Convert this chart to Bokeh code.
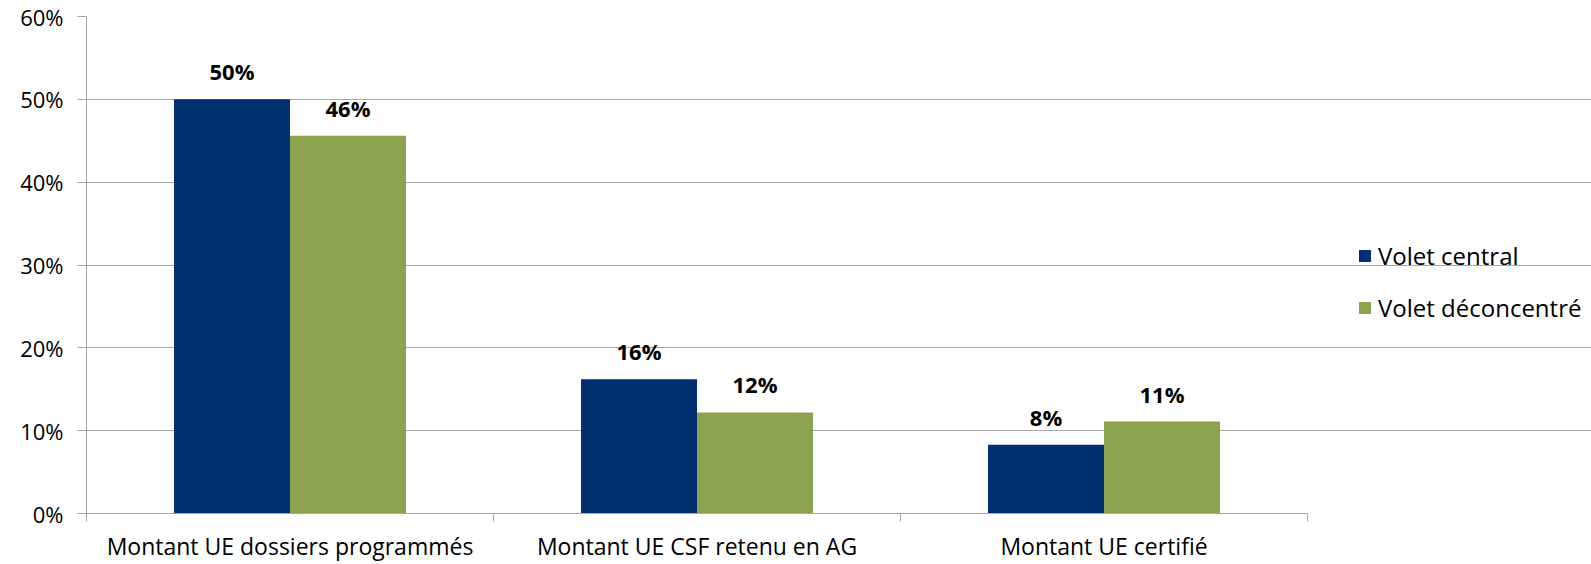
from bokeh.plotting import figure
from bokeh.models import Range1d, FixedTicker, Legend, LegendItem, ColumnDataSource, PrintfTickFormatter
from bokeh.embed import file_html
from bokeh.resources import INLINE
from bokeh.core.properties import value

categories = ["Montant UE dossiers programmés", "Montant UE CSF retenu en AG", "Montant UE certifié"]
series_names = ["Volet central", "Volet déconcentré"]
volet_central = [50.0, 16.2, 8.3]
volet_deconcentre = [45.6, 12.2, 11.1]
y_ticks = [0, 10, 20, 30, 40, 50, 60]
colors = ["#003070", "#8BA24E"]

FONT = "Open Sans"
GRID = "#A6A6A6"
BAR_W = 0.285

W, H = 1591, 564
LEFT, TOP, BOTTOM = 86, 16, 51
frame_w = W - LEFT
x_end = len(categories) * frame_w / 1221.0

p = figure(width=W, height=H, x_range=Range1d(0, x_end), y_range=Range1d(0, 60),
           output_backend="svg", toolbar_location=None,
           min_border_left=LEFT, min_border_right=0, min_border_top=TOP, min_border_bottom=BOTTOM)
p.outline_line_color = None
p.background_fill_color = "white"

# bars
renderers = []
for k, (vals, col) in enumerate([(volet_central, colors[0]), (volet_deconcentre, colors[1])]):
    xs = [i + 0.5 + (k - 0.5) * BAR_W for i in range(len(categories))]
    src = ColumnDataSource(dict(x=xs, top=vals, lab=["%d%%" % round(v) for v in vals]))
    r = p.vbar(x="x", top="top", bottom=0, width=BAR_W, source=src, fill_color=col, line_color=None)
    renderers.append(r)
    p.text(x="x", y="top", text="lab", source=src, y_offset=-28, text_align="center",
           text_baseline="alphabetic", text_font=value(FONT), text_font_style="bold",
           text_font_size="22px", text_color="black")

# y axis
yax = p.yaxis[0]
yax.ticker = FixedTicker(ticks=y_ticks, minor_ticks=[])
yax.formatter = PrintfTickFormatter(format="%d%%")
yax.axis_line_color = GRID
yax.major_tick_line_color = GRID
yax.major_tick_in = 0
yax.major_tick_out = 9
yax.minor_tick_line_color = None
yax.major_label_standoff = 14
yax.major_label_text_font = FONT
yax.major_label_text_font_size = "22px"
yax.major_label_text_color = "black"

# x axis (category boundaries as minor ticks, labels at centres)
xax = p.xaxis[0]
xax.bounds = (0, len(categories))
xax.ticker = FixedTicker(ticks=[i + 0.5 for i in range(len(categories))],
                         minor_ticks=list(range(len(categories) + 1)))
xax.major_label_overrides = {i + 0.5: c for i, c in enumerate(categories)}
xax.axis_line_color = GRID
xax.major_tick_line_color = None
xax.major_tick_in = 0
xax.major_tick_out = 0
xax.minor_tick_line_color = GRID
xax.minor_tick_in = 0
xax.minor_tick_out = 8
xax.major_label_standoff = 8
xax.major_label_text_font = FONT
xax.major_label_text_font_size = "23px"
xax.major_label_text_color = "black"

p.xgrid.visible = False
p.ygrid.ticker = FixedTicker(ticks=y_ticks, minor_ticks=[])
p.ygrid.bounds = (0, len(categories))
p.ygrid.grid_line_color = GRID
p.ygrid.grid_line_width = 1

legend = Legend(items=[LegendItem(label=n, renderers=[r]) for n, r in zip(series_names, renderers)],
                location=(1271, 189), glyph_width=15, glyph_height=15, label_standoff=6,
                spacing=19, label_height=20, padding=0, margin=0,
                border_line_color=None, background_fill_alpha=0,
                label_text_font=FONT, label_text_font_size="24px", label_text_color="black")
p.add_layout(legend, "center")

open("out.html", "w").write(file_html(p, INLINE))
